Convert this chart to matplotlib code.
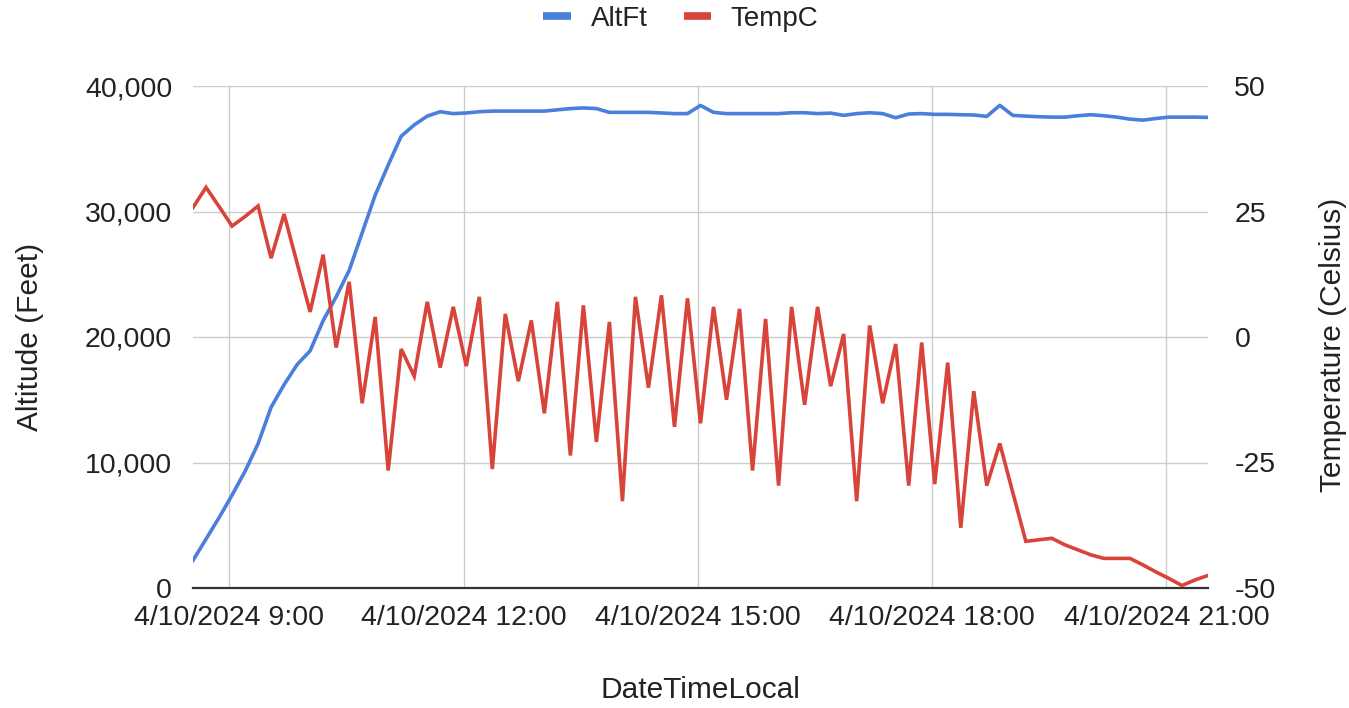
import matplotlib
matplotlib.use("Agg")
import matplotlib.pyplot as plt
import matplotlib.dates as mdates
from matplotlib.lines import Line2D
from matplotlib.ticker import FuncFormatter
import pandas as pd

plt.rcParams['font.family'] = ['Liberation Sans', 'DejaVu Sans']

# readings every 10 minutes on 4/10/2024
times = [
    "08:32", "08:42", "08:52", "09:02", "09:12", "09:22", "09:32", "09:42", "09:52", "10:02",
    "10:12", "10:22", "10:32", "10:42", "10:52", "11:02", "11:12", "11:22", "11:32", "11:42",
    "11:52", "12:02", "12:12", "12:22", "12:32", "12:42", "12:52", "13:02", "13:12", "13:22",
    "13:32", "13:42", "13:52", "14:02", "14:12", "14:22", "14:32", "14:42", "14:52", "15:02",
    "15:12", "15:22", "15:32", "15:42", "15:52", "16:02", "16:12", "16:22", "16:32", "16:42",
    "16:52", "17:02", "17:12", "17:22", "17:32", "17:42", "17:52", "18:02", "18:12", "18:22",
    "18:32", "18:42", "18:52", "19:02", "19:12", "19:22", "19:32", "19:42", "19:52", "20:02",
    "20:12", "20:22", "20:32", "20:42", "20:52", "21:02", "21:12", "21:22", "21:32",
]

alt_ft = [
    2200, 3900, 5600, 7400, 9300, 11500, 14400, 16200, 17800, 18900,
    21300, 23200, 25300, 28300, 31300, 33700, 36000, 36900, 37600, 37950,
    37800, 37850, 37950, 38000, 38000, 38000, 38000, 38000, 38100, 38200,
    38250, 38200, 37900, 37900, 37900, 37900, 37850, 37800, 37800, 38450,
    37900, 37800, 37800, 37800, 37800, 37800, 37870, 37870, 37800, 37840,
    37660, 37800, 37870, 37800, 37470, 37770, 37800, 37740, 37740, 37710,
    37690, 37580, 38460, 37660, 37600, 37550, 37520, 37520, 37630, 37710,
    37630, 37520, 37360, 37280, 37410, 37520, 37520, 37520, 37500,
]

temp_c = [
    25.8, 29.8, 26.0, 22.1, 24.0, 26.1, 15.7, 24.5, 14.7, 5.0,
    16.4, -2.1, 11.0, -13.2, 4.0, -26.6, -2.4, -7.8, 7.0, -6.1,
    6.0, -5.8, 8.0, -26.3, 4.6, -8.8, 3.3, -15.2, 7.0, -23.6,
    6.3, -20.9, 3.0, -32.7, 8.0, -10.1, 8.3, -17.9, 7.7, -17.2,
    6.0, -12.5, 5.6, -26.6, 3.6, -29.6, 6.0, -13.5, 6.0, -9.8,
    0.6, -32.7, 2.3, -13.2, -1.4, -29.6, -1.1, -29.3, -5.1, -38.0,
    -10.8, -29.6, -21.2, -31.0, -40.7, -40.4, -40.1, -41.4, -42.4, -43.4,
    -44.1, -44.1, -44.1, -45.4, -46.8, -48.1, -49.5, -48.4, -47.5,
]

tick_times = ["09:00", "12:00", "15:00", "18:00", "21:00"]
alt_ticks = [0, 10000, 20000, 30000, 40000]
temp_ticks = [-50, -25, 0, 25, 50]

blue = '#4a7fdc'
red = '#d8443a'
grid_c = '#cccccc'
text_c = '#222222'

x = pd.to_datetime(["2024-04-10 " + t for t in times])
xt = pd.to_datetime(["2024-04-10 " + t for t in tick_times])

fig = plt.figure(figsize=(13.49, 7.08), dpi=100)
ax = fig.add_axes([193 / 1349, 1 - 588 / 708, 1015 / 1349, 502 / 708])
ax2 = ax.twinx()

ax.plot(x, alt_ft, color=blue, lw=2.6, solid_joinstyle='round')
ax2.plot(x, temp_c, color=red, lw=2.6, solid_joinstyle='miter')

ax.set_xlim(x[0], x[-1])
ax.set_ylim(0, 40000)
ax2.set_ylim(-50, 50)
ax.set_yticks(alt_ticks)
ax2.set_yticks(temp_ticks)
ax.set_xticks(xt)
ax.xaxis.set_major_formatter(FuncFormatter(
    lambda v, p: "4/10/2024 %d:%02d" % (mdates.num2date(v).hour, mdates.num2date(v).minute)))
ax.yaxis.set_major_formatter(FuncFormatter(lambda v, p: f"{int(v):,}"))
ax2.yaxis.set_major_formatter(FuncFormatter(lambda v, p: f"{int(v)}"))

ax.grid(True, color=grid_c, lw=1)
ax.set_axisbelow(True)
for a in (ax, ax2):
    for s in ('top', 'left', 'right', 'bottom'):
        a.spines[s].set_visible(False)
ax.spines['bottom'].set_visible(True)
ax.spines['bottom'].set_color('#333333')
ax.spines['bottom'].set_linewidth(1.6)

ax.tick_params(axis='both', length=0, labelsize=20.5, colors=text_c)
ax.tick_params(axis='y', pad=15)
ax.tick_params(axis='x', pad=12)
ax2.tick_params(axis='y', length=0, labelsize=20.5, colors=text_c, pad=19)

fig.text(700 / 1349, 1 - 690 / 708, "DateTimeLocal", ha='center', va='center',
         fontsize=21.5, color=text_c)
fig.text(30 / 1349, 1 - 337 / 708, "Altitude (Feet)", ha='center', va='center',
         rotation=90, fontsize=21.5, color=text_c)
fig.text(1333 / 1349, 1 - 345 / 708, "Temperature (Celsius)", ha='center', va='center',
         rotation=90, fontsize=21.5, color=text_c)

handles = [Line2D([], [], color=blue, lw=5.5, solid_capstyle='butt'),
           Line2D([], [], color=red, lw=5.5, solid_capstyle='butt')]
fig.legend(handles, ["AltFt", "TempC"], loc='center', bbox_to_anchor=(681 / 1349, 1 - 19 / 708),
           ncol=2, frameon=False, fontsize=20, handlelength=1.0, handletextpad=0.7,
           columnspacing=1.3, labelcolor=text_c)

fig.savefig("out.png", dpi=100)
